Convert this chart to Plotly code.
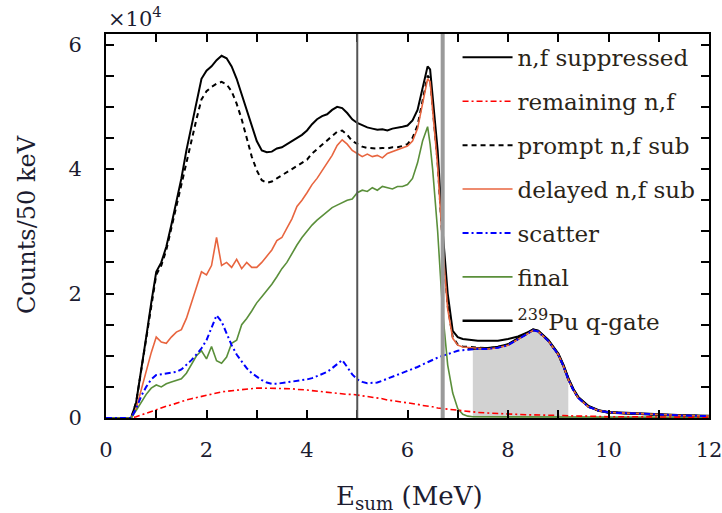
import plotly.graph_objects as go

# Energy grid (MeV)
E = [0.0, 0.5, 0.6, 0.7, 0.8, 0.9, 1.0, 1.1, 1.2, 1.3,
     1.4, 1.5, 1.6, 1.7, 1.8, 1.9, 2.0, 2.1, 2.2, 2.3,
     2.4, 2.5, 2.6, 2.7, 2.8, 2.9, 3.0, 3.1, 3.2, 3.3,
     3.4, 3.5, 3.6, 3.7, 3.8, 3.9, 4.0, 4.1, 4.2, 4.3,
     4.4, 4.5, 4.6, 4.7, 4.8, 4.9, 5.0, 5.1, 5.2, 5.3,
     5.4, 5.5, 5.6, 5.7, 5.8, 5.9, 6.0, 6.1, 6.2, 6.3,
     6.4, 6.45, 6.5, 6.6, 6.7, 6.8, 6.9, 7.0, 7.1, 7.2,
     7.3, 7.4, 7.6, 7.8, 8.0, 8.2, 8.4, 8.5, 8.6, 8.8,
     9.0, 9.1, 9.2, 9.3, 9.4, 9.6, 9.8, 10.0, 10.5, 11.0,
     11.5, 12.0]

# Counts / 50 keV in units of 1e4
nf_suppressed = [0, 0, 0.25, 0.75, 1.3, 1.85, 2.35, 2.5, 2.75, 3.1,
                 3.45, 3.85, 4.3, 4.7, 5.1, 5.45, 5.58, 5.65, 5.75, 5.82,
                 5.78, 5.65, 5.45, 5.2, 4.95, 4.7, 4.45, 4.3, 4.27, 4.28,
                 4.33, 4.35, 4.4, 4.45, 4.5, 4.55, 4.62, 4.72, 4.8, 4.85,
                 4.88, 4.95, 5.0, 4.98, 4.9, 4.8, 4.74, 4.7, 4.67, 4.65,
                 4.63, 4.64, 4.62, 4.65, 4.66, 4.68, 4.7, 4.78, 4.95, 5.3,
                 5.65, 5.6, 5.2, 4.3, 3.0, 2.0, 1.4, 1.3, 1.27, 1.26,
                 1.25, 1.24, 1.24, 1.24, 1.27, 1.31, 1.38, 1.42, 1.40, 1.25,
                 1.03, 0.85, 0.64, 0.46, 0.33, 0.19, 0.12, 0.09, 0.07, 0.05,
                 0.04, 0.03]

remaining_nf = [0, 0, 0.02, 0.05, 0.08, 0.1, 0.13, 0.16, 0.19, 0.21,
                0.24, 0.26, 0.29, 0.31, 0.33, 0.35, 0.37, 0.39, 0.4, 0.42,
                0.43, 0.44, 0.45, 0.46, 0.47, 0.47, 0.48, 0.48, 0.48, 0.48,
                0.48, 0.48, 0.47, 0.47, 0.46, 0.46, 0.45, 0.44, 0.43, 0.43,
                0.42, 0.41, 0.4, 0.39, 0.38, 0.38, 0.37, 0.36, 0.35, 0.33,
                0.32, 0.31, 0.29, 0.28, 0.27, 0.25, 0.24, 0.23, 0.22, 0.2,
                0.19, 0.19, 0.18, 0.16, 0.15, 0.14, 0.13, 0.12, 0.11, 0.1,
                0.1, 0.09, 0.08, 0.07, 0.06, 0.06, 0.05, 0.05, 0.05, 0.04,
                0.04, 0.04, 0.035, 0.03, 0.03, 0.03, 0.025, 0.02, 0.02, 0.015,
                0.012, 0.01]

prompt_sub = [0, 0, 0.25, 0.75, 1.28, 1.8, 2.3, 2.45, 2.7, 3.05,
              3.4, 3.75, 4.15, 4.5, 4.8, 5.12, 5.25, 5.32, 5.37, 5.4,
              5.36, 5.25, 5.05, 4.8, 4.5, 4.2, 3.98, 3.82, 3.78, 3.8,
              3.85, 3.9, 3.95, 4.0, 4.05, 4.1, 4.15, 4.25, 4.32, 4.38,
              4.45, 4.52, 4.6, 4.62, 4.55, 4.45, 4.4, 4.36, 4.34, 4.33,
              4.33, 4.34, 4.33, 4.35, 4.35, 4.37, 4.4, 4.5, 4.7, 5.1,
              5.5, 5.45, 5.0, 4.1, 2.8, 1.8, 1.3, 1.18, 1.15, 1.14,
              1.13, 1.13, 1.12, 1.14, 1.18, 1.27, 1.37, 1.41, 1.39, 1.24,
              1.02, 0.84, 0.62, 0.45, 0.32, 0.18, 0.12, 0.09, 0.07, 0.05,
              0.04, 0.03]

delayed_sub = [0, 0, 0.15, 0.45, 0.75, 1.05, 1.3, 1.22, 1.2, 1.3,
               1.38, 1.42, 1.6, 1.85, 2.1, 2.35, 2.3, 2.45, 2.9, 2.45,
               2.5, 2.42, 2.55, 2.4, 2.5, 2.42, 2.42, 2.5, 2.6, 2.7,
               2.85, 2.9, 3.05, 3.2, 3.4, 3.5, 3.62, 3.75, 3.85, 3.98,
               4.1, 4.22, 4.38, 4.47, 4.4, 4.3, 4.25, 4.2, 4.24, 4.2,
               4.22, 4.18, 4.25, 4.28, 4.3, 4.33, 4.37, 4.45, 4.65, 5.05,
               5.45, 5.4, 4.95, 4.05, 2.75, 1.75, 1.28, 1.17, 1.14, 1.13,
               1.12, 1.12, 1.11, 1.13, 1.17, 1.26, 1.36, 1.41, 1.39, 1.24,
               1.02, 0.84, 0.62, 0.45, 0.32, 0.18, 0.12, 0.09, 0.07, 0.05,
               0.04, 0.03]

scatter = [0, 0, 0.15, 0.35, 0.5, 0.62, 0.69, 0.7, 0.71, 0.72,
           0.74, 0.78, 0.85, 0.93, 1.02, 1.12, 1.25, 1.45, 1.65, 1.55,
           1.35, 1.17, 1.02, 0.9, 0.8, 0.72, 0.66, 0.61, 0.57, 0.55,
           0.55, 0.56, 0.57, 0.58, 0.59, 0.6, 0.62, 0.64, 0.67, 0.7,
           0.74, 0.8, 0.87, 0.93, 0.82, 0.7, 0.62, 0.58, 0.56, 0.56,
           0.57, 0.6, 0.63, 0.66, 0.7, 0.73, 0.76, 0.79, 0.82, 0.86,
           0.9, 0.92, 0.93, 0.97, 1.0, 1.03, 1.06, 1.08, 1.09, 1.1,
           1.11, 1.11, 1.11, 1.13, 1.17, 1.26, 1.36, 1.41, 1.39, 1.24,
           1.02, 0.84, 0.62, 0.45, 0.32, 0.18, 0.12, 0.09, 0.07, 0.05,
           0.04, 0.03]

final = [0, 0, 0.12, 0.25, 0.38, 0.48, 0.53, 0.5, 0.55, 0.58,
         0.6, 0.63, 0.72, 0.85, 1.0, 1.08, 0.95, 1.15, 0.92, 0.88,
         0.98, 1.2, 1.25, 1.5, 1.6, 1.72, 1.85, 1.95, 2.05, 2.15,
         2.27, 2.4, 2.5, 2.65, 2.78, 2.9, 3.0, 3.1, 3.18, 3.25,
         3.32, 3.38, 3.42, 3.46, 3.5, 3.52, 3.62, 3.66, 3.64, 3.7,
         3.66, 3.72, 3.7, 3.68, 3.72, 3.72, 3.75, 3.85, 4.1, 4.45,
         4.68, 4.4, 4.0, 3.0, 1.7, 0.85, 0.4, 0.15, 0.06, 0.03,
         0.02, 0.02, 0.02, 0.02, 0.02, 0.02, 0.02, 0.02, 0.02, 0.02,
         0.015, 0.015, 0.015, 0.01, 0.01, 0.01, 0.01, 0.01, 0.01, 0.01,
         0.01, 0.01]

qgate_E = [7.2, 7.3, 7.4, 7.6, 7.8, 8.0, 8.2, 8.4, 8.5, 8.6, 8.8, 9.0,
           9.1, 9.2, 9.3, 9.4, 9.6, 9.8, 10.0, 10.5, 11.0, 11.5, 12.0]
qgate = [1.11, 1.12, 1.12, 1.12, 1.14, 1.18, 1.27, 1.37, 1.42, 1.40, 1.25, 1.03,
         0.85, 0.63, 0.46, 0.33, 0.19, 0.12, 0.09, 0.07, 0.05, 0.04, 0.03]

gate_lo, gate_hi = 7.3, 9.2
vlines = [5.0, 6.7]

x_ticks = list(range(0, 13))
x_ticktext = ["0", "", "2", "", "4", "", "6", "", "8", "", "10", "", "12"]
y_ticks = [0, 0.5, 1, 1.5, 2, 2.5, 3, 3.5, 4, 4.5, 5, 5.5, 6]
y_ticktext = ["0", "", "", "", "2", "", "", "", "4", "", "", "", "6"]

FONT = "DejaVu Serif"
TXT = "#1c1c30"

fig = go.Figure()

# shaded gate region
fx = [x for x in qgate_E if gate_lo <= x <= gate_hi]
fy = [y for x, y in zip(qgate_E, qgate) if gate_lo <= x <= gate_hi]
fig.add_trace(go.Scatter(x=[fx[0]] + fx + [fx[-1]], y=[0] + fy + [0],
                         fill="toself", fillcolor="#d2d2d2", mode="none",
                         showlegend=False, hoverinfo="skip"))

# (legend rank, name, x, y, line); drawn in this list order
series = [
    (7, "<sup>239</sup>Pu q-gate", qgate_E, qgate, dict(color="black", width=2.6, dash="solid")),
    (1, "n,f suppressed", E, nf_suppressed, dict(color="black", width=2, dash="solid")),
    (3, "prompt n,f sub", E, prompt_sub, dict(color="black", width=2, dash="5px,4px")),
    (4, "delayed n,f sub", E, delayed_sub, dict(color="#e8653f", width=1.6, dash="solid")),
    (6, "final", E, final, dict(color="#5a8f3a", width=1.6, dash="solid")),
    (2, "remaining n,f", E, remaining_nf, dict(color="#ff0000", width=1.6, dash="6px,3px,2px,3px")),
    (5, "scatter", E, scatter, dict(color="#0000ff", width=2, dash="6px,3px,2px,3px")),
]
for rank, name, xs, ys, ln in series:
    fig.add_trace(go.Scatter(x=xs, y=ys, mode="lines", name=name, line=ln,
                             legendgroup="g%d" % rank, legendrank=rank))

fig.add_shape(type="line", x0=vlines[0], x1=vlines[0], y0=0, y1=1, yref="paper",
              line=dict(color="#555555", width=2))
fig.add_shape(type="line", x0=vlines[1], x1=vlines[1], y0=0, y1=1, yref="paper",
              line=dict(color="#9a9a9a", width=4))

axis_common = dict(showline=True, linecolor="black", linewidth=2, mirror="ticks",
                   ticks="inside", ticklen=8, tickwidth=1.5, tickcolor="black",
                   showgrid=False, zeroline=False, ticklabeloverflow="allow",
                   automargin=False,
                   tickfont=dict(family=FONT, size=21, color=TXT))

fig.update_xaxes(range=[0, 12], tickvals=x_ticks, ticktext=x_ticktext,
                 ticklabelstandoff=12, **axis_common)
fig.update_yaxes(range=[0, 6.17], tickvals=y_ticks, ticktext=y_ticktext,
                 ticklabelstandoff=18, **axis_common)

fig.update_layout(
    width=722, height=513,
    margin=dict(l=106, r=13, t=34, b=95, autoexpand=False),
    plot_bgcolor="white", paper_bgcolor="white",
    font=dict(family=FONT, size=21, color=TXT),
    legend=dict(x=0.583, y=0.995, xanchor="left", yanchor="top",
                bgcolor="rgba(0,0,0,0)", borderwidth=0,
                tracegroupgap=11, itemwidth=50,
                font=dict(family=FONT, size=23, color="#2a2418")),
    annotations=[
        dict(text="E<sub>sum</sub> (MeV)", x=0.5025, y=-0.206, xref="paper", yref="paper",
             xanchor="center", yanchor="middle", showarrow=False,
             font=dict(family=FONT, size=26, color=TXT)),
        dict(text="Counts/50 keV", x=-0.131, y=0.5026, xref="paper", yref="paper",
             xanchor="center", yanchor="middle", showarrow=False, textangle=-90,
             font=dict(family=FONT, size=24, color=TXT)),
        dict(text="×10<sup>4</sup>", x=0.0, y=1.045, xref="paper", yref="paper",
             xanchor="left", yanchor="middle", showarrow=False,
             font=dict(family=FONT, size=21, color=TXT)),
    ],
)

fig.write_html("out.html")
